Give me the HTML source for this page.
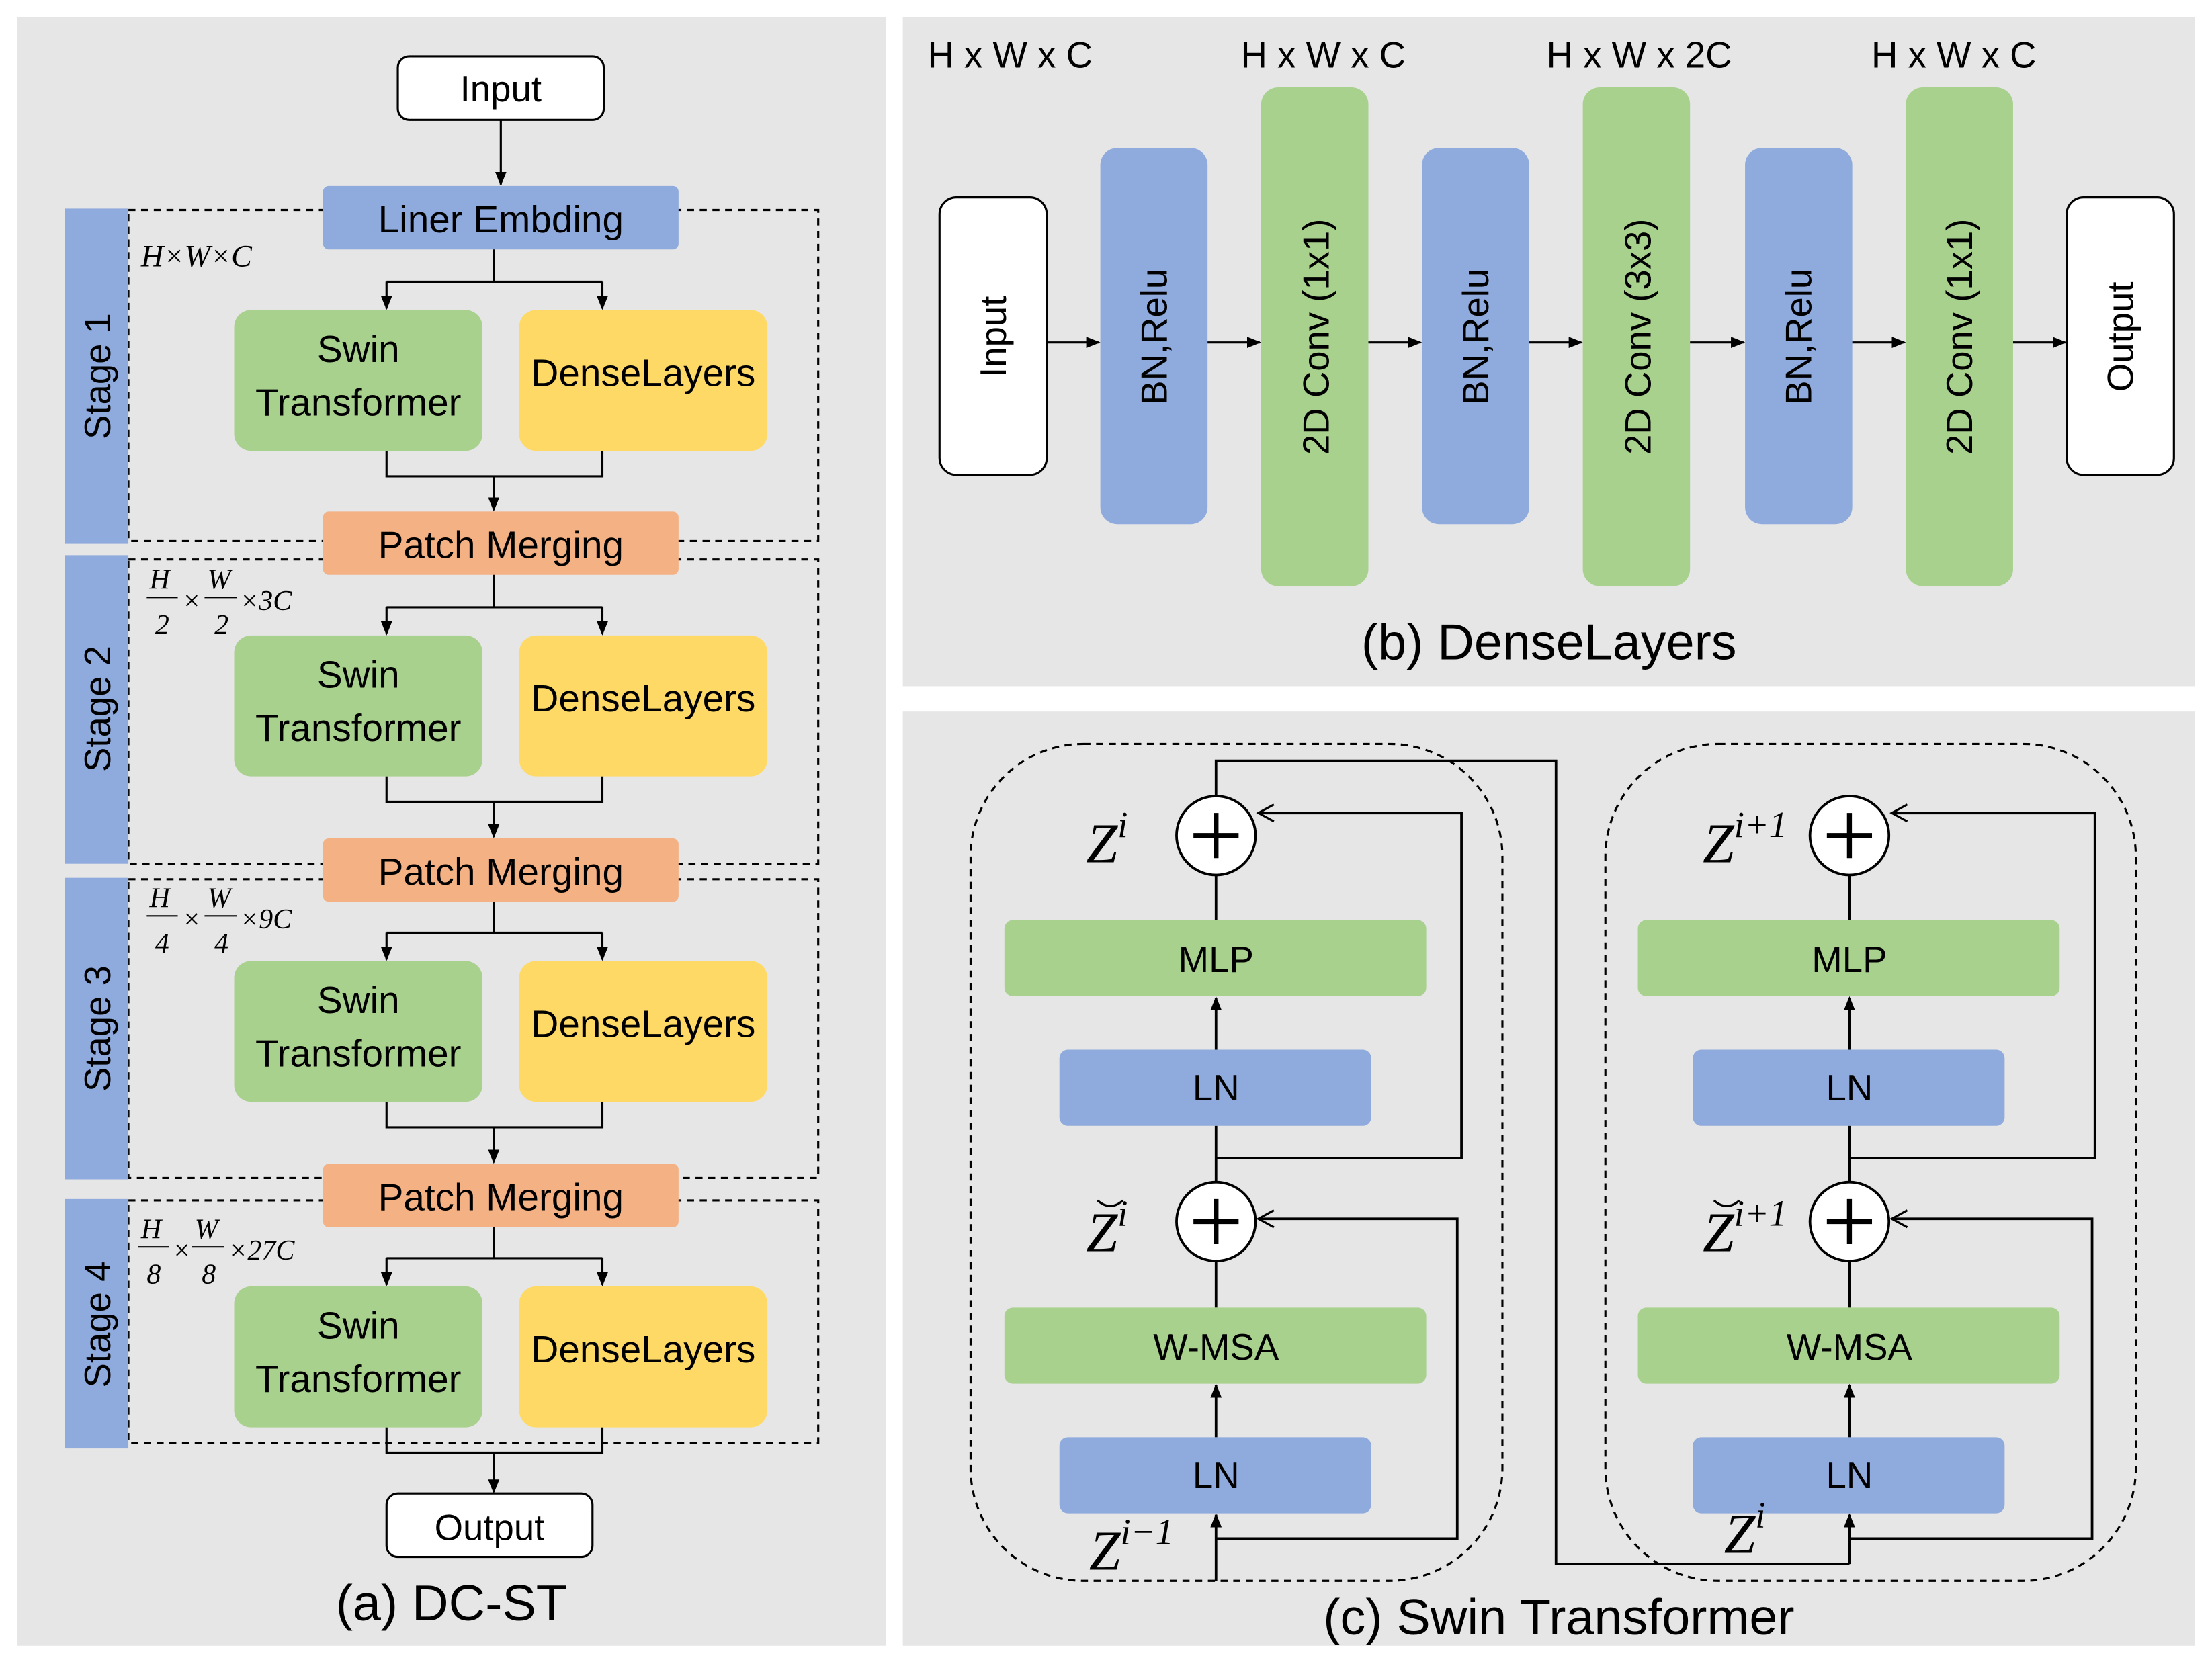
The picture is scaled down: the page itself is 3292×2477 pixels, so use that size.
<!DOCTYPE html>
<html><head><meta charset="utf-8"><style>
html,body{margin:0;padding:0;background:#fff;}
svg{display:block;}
text{font-family:"Liberation Sans",sans-serif;}
text.m,.m text,.m tspan{font-family:"Liberation Serif",serif;font-style:italic;}
</style></head><body>
<svg width="3292" height="2477" viewBox="0 0 1568 1181" preserveAspectRatio="none" xmlns="http://www.w3.org/2000/svg">
<defs>
<marker id="a" markerWidth="10" markerHeight="10" refX="9" refY="5" orient="auto" markerUnits="userSpaceOnUse"><path d="M0,1 L10,5 L0,9 z" fill="#000"/></marker>
<marker id="o" markerWidth="14" markerHeight="14" refX="12" refY="7" orient="auto" markerUnits="userSpaceOnUse"><path d="M1,1 L12,7 L1,13" fill="none" stroke="#000" stroke-width="1.5"/></marker>
</defs>
<rect width="1568" height="1181" fill="#fff"/>
<rect x="12" y="12" width="616" height="1156" fill="#e6e6e6"/>
<rect x="640" y="12" width="916" height="475" fill="#e6e6e6"/>
<rect x="640" y="505" width="916" height="663" fill="#e6e6e6"/>

<rect x="282" y="40" width="146" height="45" rx="8" fill="#fff" stroke="#000" stroke-width="1.5"/>
<text x="355" y="72" font-size="26" text-anchor="middle">Input</text>
<line x1="355" y1="85" x2="355" y2="131" stroke="#000" stroke-width="1.5" marker-end="url(#a)"/>

<g stroke="#000" stroke-width="1.5" fill="none">
<rect x="91" y="149" width="489" height="235" stroke-dasharray="5,4"/>
<rect x="91" y="397" width="489" height="216" stroke-dasharray="5,4"/>
<rect x="91" y="624" width="489" height="212" stroke-dasharray="5,4"/>
<rect x="91" y="852" width="489" height="172" stroke-dasharray="5,4"/>
</g>
<rect x="46" y="148" width="45" height="238" fill="#8faadc"/>
<rect x="46" y="394" width="45" height="219" fill="#8faadc"/>
<rect x="46" y="623" width="45" height="214" fill="#8faadc"/>
<rect x="46" y="851" width="45" height="177" fill="#8faadc"/>
<text transform="translate(78,267) rotate(-90)" font-size="26" text-anchor="middle">Stage 1</text>
<text transform="translate(78,503) rotate(-90)" font-size="26" text-anchor="middle">Stage 2</text>
<text transform="translate(78,730) rotate(-90)" font-size="26" text-anchor="middle">Stage 3</text>
<text transform="translate(78,940) rotate(-90)" font-size="26" text-anchor="middle">Stage 4</text>

<rect x="229" y="132" width="252" height="45" rx="4" fill="#8faadc"/>
<text x="355" y="165" font-size="27" text-anchor="middle">Liner Embding</text>
<rect x="229" y="363" width="252" height="45" rx="4" fill="#f4b183"/>
<text x="355" y="396" font-size="27" text-anchor="middle">Patch Merging</text>
<rect x="229" y="595" width="252" height="45" rx="4" fill="#f4b183"/>
<text x="355" y="628" font-size="27" text-anchor="middle">Patch Merging</text>
<rect x="229" y="826" width="252" height="45" rx="4" fill="#f4b183"/>
<text x="355" y="859" font-size="27" text-anchor="middle">Patch Merging</text>

<text class="m" x="100" y="189" font-size="22">H×W×C</text>
<g class="m" font-size="20">
<text x="106" y="418">H</text><line x1="104" y1="424" x2="126" y2="424" stroke="#000"/><text x="110" y="450">2</text>
<text x="129" y="433">×</text>
<text x="147" y="418">W</text><line x1="145" y1="424" x2="168" y2="424" stroke="#000"/><text x="152" y="450">2</text>
<text x="170" y="433">×3C</text>
<text x="106" y="644">H</text><line x1="104" y1="650" x2="126" y2="650" stroke="#000"/><text x="110" y="676">4</text>
<text x="129" y="659">×</text>
<text x="147" y="644">W</text><line x1="145" y1="650" x2="168" y2="650" stroke="#000"/><text x="152" y="676">4</text>
<text x="170" y="659">×9C</text>
<text x="100" y="879">H</text><line x1="98" y1="885" x2="120" y2="885" stroke="#000"/><text x="104" y="911">8</text>
<text x="122" y="894">×</text>
<text x="138" y="879">W</text><line x1="136" y1="885" x2="159" y2="885" stroke="#000"/><text x="143" y="911">8</text>
<text x="162" y="894">×27C</text>
</g>

<g stroke="#000" stroke-width="1.5" fill="none">
<path d="M350,177 V200 M274,200 H427"/><line x1="274" y1="200" x2="274" y2="219" marker-end="url(#a)"/><line x1="427" y1="200" x2="427" y2="219" marker-end="url(#a)"/>
<path d="M274,320 V338 H427 V320"/><line x1="350" y1="338" x2="350" y2="362" marker-end="url(#a)"/>
<path d="M350,408 V431 M274,431 H427"/><line x1="274" y1="431" x2="274" y2="450" marker-end="url(#a)"/><line x1="427" y1="431" x2="427" y2="450" marker-end="url(#a)"/>
<path d="M274,551 V569 H427 V551"/><line x1="350" y1="569" x2="350" y2="594" marker-end="url(#a)"/>
<path d="M350,640 V662 M274,662 H427"/><line x1="274" y1="662" x2="274" y2="681" marker-end="url(#a)"/><line x1="427" y1="662" x2="427" y2="681" marker-end="url(#a)"/>
<path d="M274,782 V800 H427 V782"/><line x1="350" y1="800" x2="350" y2="825" marker-end="url(#a)"/>
<path d="M350,871 V893 M274,893 H427"/><line x1="274" y1="893" x2="274" y2="912" marker-end="url(#a)"/><line x1="427" y1="893" x2="427" y2="912" marker-end="url(#a)"/>
<path d="M274,1013 V1031 H427 V1013"/><line x1="350" y1="1031" x2="350" y2="1059" marker-end="url(#a)"/>
</g>

<g font-size="27" text-anchor="middle">
<rect x="166" y="220" width="176" height="100" rx="12" fill="#a9d18e"/><rect x="368" y="220" width="176" height="100" rx="12" fill="#ffd966"/>
<text x="254" y="257">Swin</text><text x="254" y="295">Transformer</text><text x="456" y="274">DenseLayers</text>
<rect x="166" y="451" width="176" height="100" rx="12" fill="#a9d18e"/><rect x="368" y="451" width="176" height="100" rx="12" fill="#ffd966"/>
<text x="254" y="488">Swin</text><text x="254" y="526">Transformer</text><text x="456" y="505">DenseLayers</text>
<rect x="166" y="682" width="176" height="100" rx="12" fill="#a9d18e"/><rect x="368" y="682" width="176" height="100" rx="12" fill="#ffd966"/>
<text x="254" y="719">Swin</text><text x="254" y="757">Transformer</text><text x="456" y="736">DenseLayers</text>
<rect x="166" y="913" width="176" height="100" rx="12" fill="#a9d18e"/><rect x="368" y="913" width="176" height="100" rx="12" fill="#ffd966"/>
<text x="254" y="950">Swin</text><text x="254" y="988">Transformer</text><text x="456" y="967">DenseLayers</text>
</g>
<rect x="274" y="1060" width="146" height="45" rx="8" fill="#fff" stroke="#000" stroke-width="1.5"/>
<text x="347" y="1093" font-size="26" text-anchor="middle">Output</text>
<text x="320" y="1150" font-size="36" text-anchor="middle">(a) DC-ST</text>

<g font-size="26" text-anchor="middle">
<text x="716" y="48">H x W x C</text><text x="938" y="48">H x W x C</text><text x="1162" y="48">H x W x 2C</text><text x="1385" y="48">H x W x C</text>
</g>
<rect x="666" y="140" width="76" height="197" rx="12" fill="#fff" stroke="#000" stroke-width="1.5"/>
<rect x="1465" y="140" width="76" height="197" rx="12" fill="#fff" stroke="#000" stroke-width="1.5"/>
<rect x="780" y="105" width="76" height="267" rx="12" fill="#8faadc"/>
<rect x="1008" y="105" width="76" height="267" rx="12" fill="#8faadc"/>
<rect x="1237" y="105" width="76" height="267" rx="12" fill="#8faadc"/>
<rect x="894" y="62" width="76" height="354" rx="12" fill="#a9d18e"/>
<rect x="1122" y="62" width="76" height="354" rx="12" fill="#a9d18e"/>
<rect x="1351" y="62" width="76" height="354" rx="12" fill="#a9d18e"/>
<g font-size="26" text-anchor="middle">
<text transform="translate(713,239) rotate(-90)">Input</text>
<text transform="translate(827,239) rotate(-90)">BN,Relu</text>
<text transform="translate(942,239) rotate(-90)">2D Conv (1x1)</text>
<text transform="translate(1055,239) rotate(-90)">BN,Relu</text>
<text transform="translate(1170,239) rotate(-90)">2D Conv (3x3)</text>
<text transform="translate(1284,239) rotate(-90)">BN,Relu</text>
<text transform="translate(1398,239) rotate(-90)">2D Conv (1x1)</text>
<text transform="translate(1512,239) rotate(-90)">Output</text>
</g>
<g stroke="#000" stroke-width="1.5">
<line x1="742" y1="243" x2="779" y2="243" marker-end="url(#a)"/>
<line x1="856" y1="243" x2="893" y2="243" marker-end="url(#a)"/>
<line x1="970" y1="243" x2="1007" y2="243" marker-end="url(#a)"/>
<line x1="1084" y1="243" x2="1121" y2="243" marker-end="url(#a)"/>
<line x1="1198" y1="243" x2="1236" y2="243" marker-end="url(#a)"/>
<line x1="1313" y1="243" x2="1350" y2="243" marker-end="url(#a)"/>
<line x1="1427" y1="243" x2="1464" y2="243" marker-end="url(#a)"/>
</g>
<text x="1098" y="468" font-size="36" text-anchor="middle">(b) DenseLayers</text>

<rect x="688" y="528" width="377" height="594" rx="80" fill="none" stroke="#000" stroke-width="1.5" stroke-dasharray="5,4"/>
<rect x="1138" y="528" width="376" height="594" rx="80" fill="none" stroke="#000" stroke-width="1.5" stroke-dasharray="5,4"/>
<g stroke="#000" stroke-width="1.8" fill="none">
<path d="M862,565 V540 H1103 V1110 H1311"/><line x1="1311" y1="1110" x2="1311" y2="1075" marker-end="url(#a)"/>
<line x1="862" y1="1122" x2="862" y2="1075" marker-end="url(#a)"/>
<line x1="862" y1="1020" x2="862" y2="983" marker-end="url(#a)"/>
<path d="M862,928 V895 M862,839 V799 M862,653 V621"/>
<line x1="862" y1="745" x2="862" y2="708" marker-end="url(#a)"/>
<path d="M862,822 H1036 V577 H892" marker-end="url(#o)"/>
<path d="M862,1092 H1033 V865 H892" marker-end="url(#o)"/>
<line x1="1311" y1="1020" x2="1311" y2="983" marker-end="url(#a)"/>
<path d="M1311,928 V895 M1311,839 V799 M1311,653 V621"/>
<line x1="1311" y1="745" x2="1311" y2="708" marker-end="url(#a)"/>
<path d="M1311,822 H1485 V577 H1341" marker-end="url(#o)"/>
<path d="M1311,1092 H1483 V865 H1341" marker-end="url(#o)"/>
</g>
<g font-size="26" text-anchor="middle">
<rect x="712" y="653" width="299" height="54" rx="6" fill="#a9d18e"/><text x="862" y="690">MLP</text>
<rect x="751" y="745" width="221" height="54" rx="6" fill="#8faadc"/><text x="862" y="781">LN</text>
<rect x="712" y="928" width="299" height="54" rx="6" fill="#a9d18e"/><text x="862" y="965">W-MSA</text>
<rect x="751" y="1020" width="221" height="54" rx="6" fill="#8faadc"/><text x="862" y="1056">LN</text>
<rect x="1161" y="653" width="299" height="54" rx="6" fill="#a9d18e"/><text x="1311" y="690">MLP</text>
<rect x="1200" y="745" width="221" height="54" rx="6" fill="#8faadc"/><text x="1311" y="781">LN</text>
<rect x="1161" y="928" width="299" height="54" rx="6" fill="#a9d18e"/><text x="1311" y="965">W-MSA</text>
<rect x="1200" y="1020" width="221" height="54" rx="6" fill="#8faadc"/><text x="1311" y="1056">LN</text>
</g>
<g stroke="#000" stroke-width="1.8" fill="#fff">
<circle cx="862" cy="593" r="28"/><circle cx="862" cy="867" r="28"/>
<circle cx="1311" cy="593" r="28"/><circle cx="1311" cy="867" r="28"/>
</g>
<g stroke="#000" stroke-width="3.5">
<path d="M846,593 H878 M862,577 V609"/><path d="M846,867 H878 M862,851 V883"/>
<path d="M1295,593 H1327 M1311,577 V609"/><path d="M1295,867 H1327 M1311,851 V883"/>
</g>
<g class="m" font-size="40">
<text x="770" y="612">Z<tspan font-size="26" dy="-18">i</tspan></text>
<text x="770" y="888">Z<tspan font-size="26" dy="-18">i</tspan></text>
<text x="772" y="1114">Z<tspan font-size="26" dy="-18">i−1</tspan></text>
<text x="1207" y="612">Z<tspan font-size="26" dy="-18">i+1</tspan></text>
<text x="1207" y="888">Z<tspan font-size="26" dy="-18">i+1</tspan></text>
<text x="1222" y="1102">Z<tspan font-size="26" dy="-18">i</tspan></text>
</g>
<path d="M778,852 q9,8 18,0 M1215,852 q9,8 18,0" stroke="#000" stroke-width="1.5" fill="none"/>
<text x="1105" y="1160" font-size="36" text-anchor="middle">(c) Swin Transformer</text>
</svg>
</body></html>
